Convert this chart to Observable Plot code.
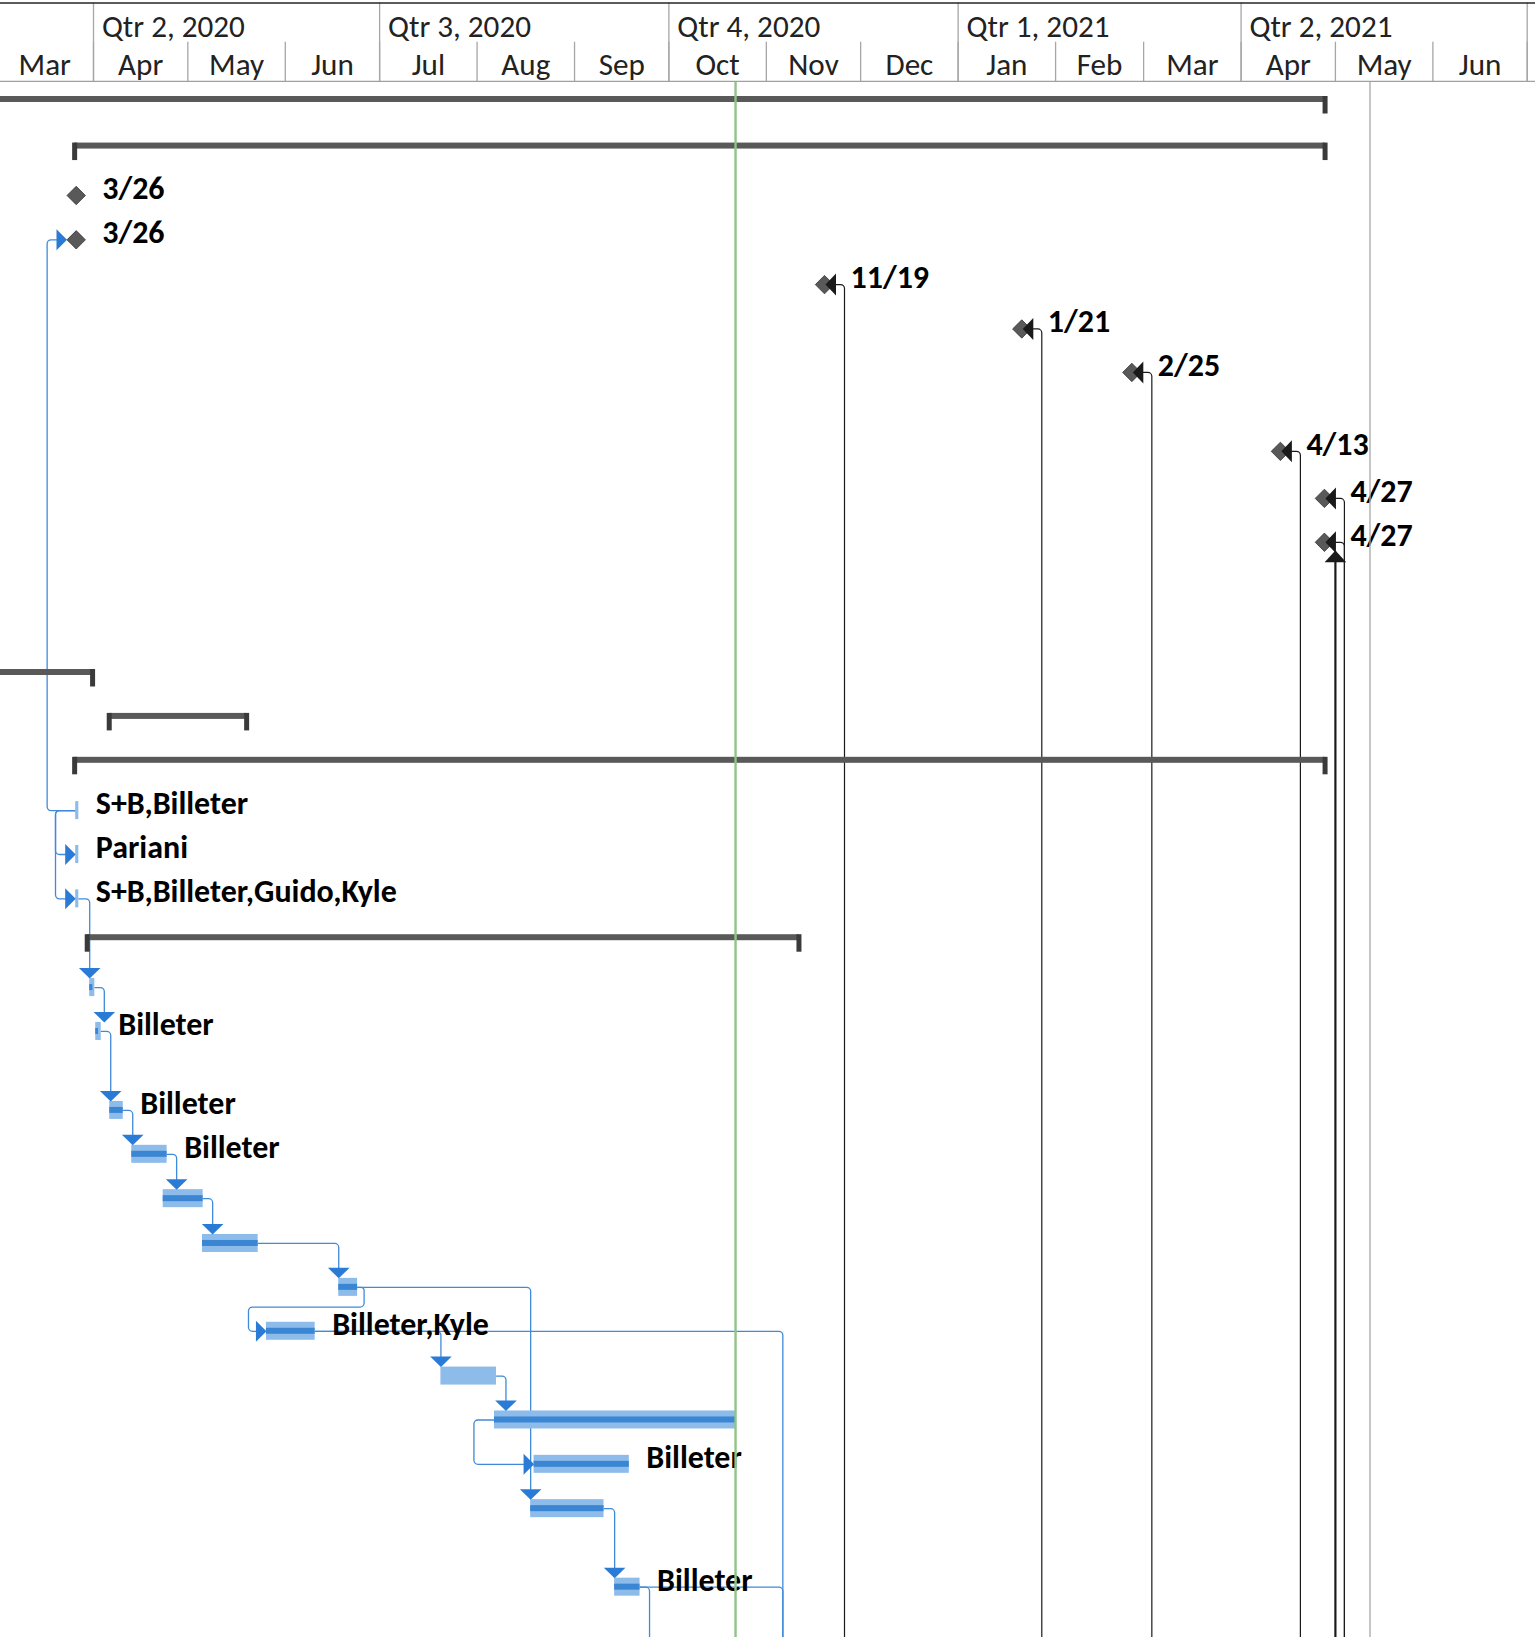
<!DOCTYPE html>
<html><head><meta charset="utf-8">
<script src="https://cdn.jsdelivr.net/npm/d3@7"></script>
<script src="https://cdn.jsdelivr.net/npm/@observablehq/plot@0.6"></script>
<style>
html,body{margin:0;padding:0;background:#fff;}
#chart svg{display:block;}
</style></head>
<body><div id="chart"></div>
<script>
// ---------------- data ----------------
const quarterLabels = ["Qtr 2, 2020","Qtr 3, 2020","Qtr 4, 2020","Qtr 1, 2021","Qtr 2, 2021"];
const quarterStarts = ["2020-04-01","2020-07-01","2020-10-01","2021-01-01","2021-04-01","2021-07-01"];
const monthLabels = ["Mar","Apr","May","Jun","Jul","Aug","Sep","Oct","Nov","Dec","Jan","Feb","Mar","Apr","May","Jun"];
const monthStarts = ["2020-03-01","2020-04-01","2020-05-01","2020-06-01","2020-07-01","2020-08-01","2020-09-01","2020-10-01","2020-11-01","2020-12-01","2021-01-01","2021-02-01","2021-03-01","2021-04-01","2021-05-01","2021-06-01","2021-07-01"];

const statusDate = "2020-10-22T05:00";   // green line
const deadlineDate = "2021-05-12T00:00"; // grey line

const summaries = [
  {id:"S1",  row:0,     start:"2020-01-15",       end:"2021-04-27T17:00"},
  {id:"S2",  row:1.05,  start:"2020-03-26",       end:"2021-04-27T17:00"},
  {id:"S11", row:12.92, start:"2020-01-15",       end:"2020-03-31T17:00"},
  {id:"S12", row:13.91, start:"2020-04-06",       end:"2020-05-19T17:00"},
  {id:"S13", row:14.90, start:"2020-03-26",       end:"2021-04-27T17:00"},
  {id:"S17", row:18.90, start:"2020-03-30",       end:"2020-11-11T09:00"}
];

const milestones = [
  {id:"M3",  row:2.04, date:"2020-03-26T12:00", label:"3/26",  late:false},
  {id:"M4",  row:3.04, date:"2020-03-26T12:00", label:"3/26",  late:false},
  {id:"M5",  row:4.05, date:"2020-11-19T12:00", label:"11/19", late:true},
  {id:"M6",  row:5.05, date:"2021-01-21T06:00", label:"1/21",  late:true},
  {id:"M7",  row:6.03, date:"2021-02-25T06:00", label:"2/25",  late:true},
  {id:"M8",  row:7.81, date:"2021-04-13T12:00", label:"4/13",  late:true},
  {id:"M9",  row:8.87, date:"2021-04-27T12:00", label:"4/27",  late:true},
  {id:"M10", row:9.86, date:"2021-04-27T12:00", label:"4/27",  late:true}
];
const upArrowMilestones = ["M10"];

const tasks = [
  {id:"T14", row:15.91, start:"2020-03-26T08:00", end:"2020-03-27T08:00", done:null,               label:"S+B,Billeter"},
  {id:"T15", row:16.90, start:"2020-03-26T08:00", end:"2020-03-27T08:00", done:null,               label:"Pariani"},
  {id:"T16", row:17.90, start:"2020-03-26T08:00", end:"2020-03-27T08:00", done:null,               label:"S+B,Billeter,Guido,Kyle"},
  {id:"T18", row:19.90, start:"2020-03-30T19:00", end:"2020-04-01T10:00", done:"2020-03-31T19:00", label:""},
  {id:"T19", row:20.89, start:"2020-04-01T17:00", end:"2020-04-03T11:00", done:"2020-04-02T14:00", label:"Billeter"},
  {id:"T20", row:22.67, start:"2020-04-06T04:00", end:"2020-04-10T11:00", done:"2020-04-10T11:00", label:"Billeter"},
  {id:"T21", row:23.66, start:"2020-04-13T04:00", end:"2020-04-24T10:00", done:"2020-04-24T10:00", label:"Billeter"},
  {id:"T22", row:24.66, start:"2020-04-23T04:00", end:"2020-05-05T21:00", done:"2020-05-05T21:00", label:""},
  {id:"T23", row:25.67, start:"2020-05-05T16:00", end:"2020-05-23T09:00", done:"2020-05-23T09:00", label:""},
  {id:"T24", row:26.66, start:"2020-06-18T00:00", end:"2020-06-24T00:00", done:"2020-06-24T00:00", label:""},
  {id:"T25", row:27.65, start:"2020-05-26T00:00", end:"2020-06-10T12:00", done:"2020-06-10T12:00", label:"Billeter,Kyle"},
  {id:"T26", row:28.66, start:"2020-07-20T12:00", end:"2020-08-07T04:00", done:null,               label:""},
  {id:"T27", row:29.65, start:"2020-08-06T13:00", end:"2020-10-22T05:00", done:"2020-10-22T05:00", label:""},
  {id:"T28", row:30.65, start:"2020-08-19T03:00", end:"2020-09-18T10:00", done:"2020-09-18T10:00", label:"Billeter"},
  {id:"T29", row:31.65, start:"2020-08-18T01:00", end:"2020-09-10T09:00", done:"2020-09-10T09:00", label:""},
  {id:"T30", row:33.42, start:"2020-09-13T18:00", end:"2020-09-21T20:00", done:"2020-09-21T20:00", label:"Billeter"}
];

// kind: fs (finish-to-start, arrow down), ss (from start, arrow right), loop (fs routed back), out (leaves the view)
const links = [
  {from:"T14", to:"M4",  kind:"ss",   via:"2020-03-17T06:00"},
  {from:"T14", to:"T15", kind:"ss",   via:"2020-03-19T22:00"},
  {from:"T14", to:"T16", kind:"ss",   via:"2020-03-19T22:00"},
  {from:"T16", to:"T18", kind:"fs"},
  {from:"T18", to:"T19", kind:"fs"},
  {from:"T19", to:"T20", kind:"fs"},
  {from:"T20", to:"T21", kind:"fs"},
  {from:"T21", to:"T22", kind:"fs"},
  {from:"T22", to:"T23", kind:"fs"},
  {from:"T23", to:"T24", kind:"fs"},
  {from:"T24", to:"T25", kind:"loop", via:"2020-05-20T07:00"},
  {from:"T24", to:"T29", kind:"fs"},
  {from:"T25", to:"T26", kind:"fs"},
  {from:"T25", to:null,  kind:"out",  via:"2020-11-06T06:00"},
  {from:"T26", to:"T27", kind:"fs"},
  {from:"T27", to:"T28", kind:"ss",   via:"2020-07-31T00:00"},
  {from:"T29", to:"T30", kind:"fs"},
  {from:"T30", to:null,  kind:"out",  via:"2020-11-06T06:00"},
  {from:"T30", to:null,  kind:"out"}
];

// ---------------- layout / scales ----------------
const W = 1535, HEAD_H = 82, BODY_H = 1637 - HEAD_H;
const xDomain = [new Date("2020-03-02T10:05:00Z"), new Date("2021-07-03T15:20:00Z")];
const dayPx = W / ((xDomain[1] - xDomain[0]) / 864e5);
const rowPx = 44.35, row0 = 22.5;
const P = s => s == null ? null : new Date(s.length === 10 ? s + "T00:00:00Z" : s + ":00Z");
const addPx = (d, px) => new Date(+d + px / dayPx * 864e5);
const ry = px => px / rowPx;
const BOTTOM = 40;

// ---------------- fonts ----------------
const ctx = document.createElement("canvas").getContext("2d");
function fontAvailable(name) {
  const s = "mmmmmmmmmmlliWWBilleter0123";
  for (const fb of ["monospace", "serif"]) {
    ctx.font = `40px ${fb}`; const a = ctx.measureText(s).width;
    ctx.font = `40px "${name}", ${fb}`; const b = ctx.measureText(s).width;
    if (a !== b) return true;
  }
  return false;
}
const family = ["Carlito", "Lato", "Open Sans", "DejaVu Sans"].find(fontAvailable) || "sans-serif";
function sizeFor(text, weight, target) {
  ctx.font = `${weight} 100px "${family}"`;
  return 100 * target / ctx.measureText(text).width;
}
const labelSize = sizeFor("S+B,Billeter,Guido,Kyle", "bold", 301);
const headSize = sizeFor("Qtr 2, 2021", "normal", 143);
const FONT = `"${family}", sans-serif`;

// ---------------- rounded-corner curve for link lines ----------------
function curveRounded(context) {
  let pts = [];
  return {
    areaStart() {}, areaEnd() {},
    lineStart() { pts = []; },
    point(x, y) { pts.push([+x, +y]); },
    lineEnd() {
      if (!pts.length) return;
      context.moveTo(pts[0][0], pts[0][1]);
      for (let i = 1; i < pts.length - 1; i++) {
        const a = pts[i - 1], b = pts[i], c = pts[i + 1];
        const r = Math.min(4, Math.hypot(b[0] - a[0], b[1] - a[1]) / 2, Math.hypot(c[0] - b[0], c[1] - b[1]) / 2);
        context.arcTo(b[0], b[1], c[0], c[1], r);
      }
      const e = pts[pts.length - 1];
      context.lineTo(e[0], e[1]);
    }
  };
}

// ---------------- derived tables ----------------
const qs = quarterStarts.map(P), ms = monthStarts.map(P);
const quarterText = quarterLabels.map((t, i) => ({t, x: qs[i]}));
const monthText = monthLabels.map((t, i) => ({t, x: new Date((+ms[i] + +ms[i + 1]) / 2)}));

const S = summaries.map(d => ({...d, start: P(d.start), end: P(d.end)}));
const M = milestones.map(d => ({...d, date: P(d.date)}));
const T = tasks.map(d => ({...d, start: P(d.start), end: P(d.end), done: P(d.done)}));
const byId = new Map([...M.map(d => [d.id, {...d, start: d.date, end: d.date, ms: true}]), ...T.map(d => [d.id, d])]);

const linkPts = [], downArrows = [], rightArrows = [];
links.forEach((l, k) => {
  const A = byId.get(l.from), B = l.to ? byId.get(l.to) : null;
  const pts = [];
  if (l.kind === "fs") {
    const X = new Date(Math.max(+B.start, +addPx(A.end, 9.5)));
    pts.push([A.end, A.row], [X, A.row], [X, B.row - ry(12)]);
    downArrows.push({x: X, row: B.row});
  } else if (l.kind === "ss") {
    const bx = B.ms ? addPx(B.start, -9.2) : B.start;
    const v = P(l.via);
    pts.push([A.start, A.row], [v, A.row], [v, B.row], [addPx(bx, -6), B.row]);
    rightArrows.push({x: bx, row: B.row});
  } else if (l.kind === "loop") {
    const v = P(l.via), e = addPx(A.end, 6.5), mid = A.row + ry(19.7);
    pts.push([A.end, A.row], [e, A.row], [e, mid], [v, mid], [v, B.row], [addPx(B.start, -6), B.row]);
    rightArrows.push({x: B.start, row: B.row});
  } else if (l.kind === "out") {
    const X = l.via ? P(l.via) : addPx(A.end, 9.5);
    pts.push([A.end, A.row], [X, A.row], [X, BOTTOM]);
  }
  pts.forEach(([x, y]) => linkPts.push({x, y, k}));
});

const lateLinkPts = [];
M.filter(d => d.late).forEach((d, k) => {
  const v = addPx(d.date, 20);
  lateLinkPts.push({x: addPx(d.date, 10), y: d.row, k}, {x: v, y: d.row, k}, {x: v, y: BOTTOM, k});
});
const upM = M.filter(d => upArrowMilestones.includes(d.id));
const upLinePts = upM.flatMap((d, k) => [{x: addPx(d.date, 11), y: d.row + ry(10), k}, {x: addPx(d.date, 11), y: BOTTOM, k}]);

// ---------------- symbols ----------------
const sym = pts => ({draw(c) { c.moveTo(...pts[0]); for (const p of pts.slice(1)) c.lineTo(...p); c.closePath(); }});
const arrowDown = sym([[-10.8, -10.5], [10.8, -10.5], [0, 0]]);
const arrowRight = sym([[-10.5, -10.5], [-10.5, 10.5], [0, 0]]);
const arrowLeft = sym([[10.5, -11], [10.5, 11], [0, 0]]);
const arrowUp = sym([[-10.8, 11.7], [10.8, 11.7], [0, 0]]);
const diamond = sym([[0, -9.2], [9.2, 0], [0, 9.2], [-9.2, 0]]);

// ---------------- colours ----------------
const C = {
  summary: "#595959", cap: "#3a3a3a", light: "#8dbbea", dark: "#3b86d3",
  link: "#3f8ad9", arrow: "#2a7bd5", ms: "#595959", black: "#1a1a1a",
  green: "#8fc487", grey: "#a8a8a8", grid: "#a6a6a6", text: "#000"
};

// ---------------- header ----------------
const header = Plot.plot({
  width: W, height: HEAD_H, margin: 0,
  style: {background: "#fff"},
  x: {type: "utc", domain: xDomain, range: [0, W], axis: null},
  y: {type: "linear", domain: [0, 1], range: [2.5, 81], axis: null},
  marks: [
    Plot.ruleX(ms, {y1: 0.5, y2: 1, stroke: C.grid, strokeWidth: 1.3}),
    Plot.ruleX(qs, {y1: 0, y2: 1, stroke: C.grid, strokeWidth: 1.3}),
    Plot.ruleY([0], {stroke: "#262626", strokeWidth: 1.4}),
    Plot.ruleY([1], {stroke: "#a0a0a0", strokeWidth: 1.6}),
    Plot.text(quarterText, {x: "x", y: () => 0.5, text: "t", dx: 8.4, dy: -5.2, textAnchor: "start", lineAnchor: "bottom",
      fontSize: headSize, fontFamily: FONT, fill: "#222"}),
    Plot.text(monthText, {x: "x", y: () => 1, text: "t", dy: -6.4, textAnchor: "middle", lineAnchor: "bottom",
      fontSize: headSize, fontFamily: FONT, fill: "#222"})
  ]
});

// ---------------- body ----------------
const body = Plot.plot({
  width: W, height: BODY_H, margin: 0,
  style: {background: "#fff"},
  x: {type: "utc", domain: xDomain, range: [0, W], axis: null},
  y: {type: "linear", domain: [0, 1], range: [row0, row0 + rowPx], axis: null},
  marks: [
    // milestone links coming from below (black)
    Plot.line(lateLinkPts, {x: "x", y: "y", z: "k", stroke: C.black, strokeWidth: 1.2, curve: curveRounded, clip: true}),
    Plot.line(upLinePts, {x: "x", y: "y", z: "k", stroke: C.black, strokeWidth: 2.2, clip: true}),
    // task links (blue)
    Plot.line(linkPts, {x: "x", y: "y", z: "k", stroke: C.link, strokeWidth: 1.3, curve: curveRounded, clip: true}),
    // summary bars + caps
    Plot.rect(S, {x1: "start", x2: "end", y1: d => d.row - ry(8.5), y2: d => d.row - ry(2.5), fill: C.summary, clip: true}),
    Plot.ruleX(S, {x: "start", y1: d => d.row - ry(8.5), y2: d => d.row + ry(9), stroke: C.cap, strokeWidth: 5, clip: true}),
    Plot.ruleX(S, {x: "end", y1: d => d.row - ry(8.5), y2: d => d.row + ry(9), stroke: C.cap, strokeWidth: 5, clip: true}),
    // task bars + progress
    Plot.rect(T, {x1: "start", x2: "end", y1: d => d.row - ry(9), y2: d => d.row + ry(9), fill: C.light}),
    Plot.rect(T.filter(d => d.done), {x1: "start", x2: "done", y1: d => d.row - ry(3), y2: d => d.row + ry(3), fill: C.dark}),
    // arrows
    Plot.dot(downArrows, {x: "x", y: "row", dy: -9, symbol: arrowDown, fill: C.arrow, stroke: "none"}),
    Plot.dot(rightArrows, {x: "x", y: "row", symbol: arrowRight, fill: C.arrow, stroke: "none"}),
    // milestones
    Plot.dot(M, {x: "date", y: "row", symbol: diamond, fill: C.ms, stroke: "#333", strokeWidth: 0.8}),
    Plot.dot(M.filter(d => d.late), {x: "date", y: "row", dx: 1, symbol: arrowLeft, fill: C.black, stroke: "none"}),
    Plot.dot(upM, {x: d => addPx(d.date, 11), y: "row", dy: 8.3, symbol: arrowUp, fill: C.black, stroke: "none"}),
    // labels
    Plot.text(M, {x: "date", y: "row", text: "label", dx: 26, dy: 3.5, textAnchor: "start", lineAnchor: "bottom",
      fontWeight: "bold", fontSize: labelSize, fontFamily: FONT, fill: C.text}),
    Plot.text(T.filter(d => d.label), {x: "end", y: "row", text: "label", dx: 17, dy: 3.5, textAnchor: "start", lineAnchor: "bottom",
      fontWeight: "bold", fontSize: labelSize, fontFamily: FONT, fill: C.text}),
    // status & deadline lines
    Plot.ruleX([P(deadlineDate)], {stroke: C.grey, strokeWidth: 1.3}),
    Plot.ruleX([P(statusDate)], {stroke: C.green, strokeWidth: 2.4})
  ]
});

document.getElementById("chart").append(header, body);
</script>
</body></html>
